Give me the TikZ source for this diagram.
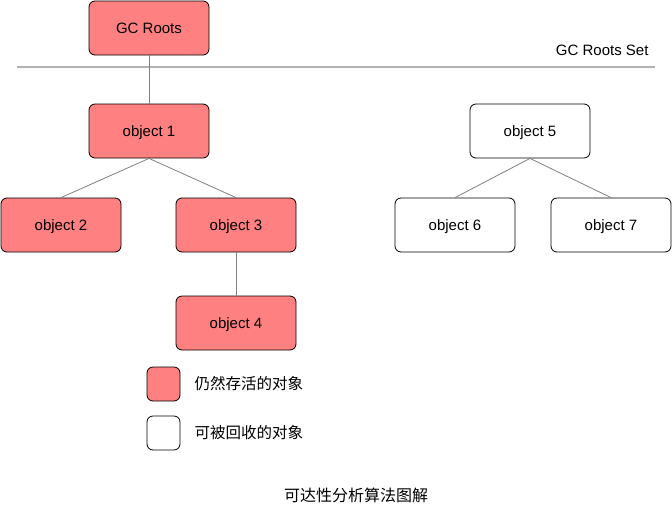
\documentclass[tikz,border=0pt]{standalone}
\usepackage{fontspec}
\setmainfont{Liberation Sans}
\newfontfamily\cjk{Noto Sans CJK SC}
\definecolor{alive}{HTML}{FF8080}
\definecolor{linkgray}{HTML}{808080}
\definecolor{setgray}{HTML}{B3B3B3}
\tikzset{
  obj/.style={draw=black, rounded corners=6pt, minimum width=120pt, minimum height=54pt,
    font=\fontsize{15}{17}\selectfont, text height=10pt, text depth=0pt, line width=0.8pt},
  live/.style={obj, fill=alive},
  dead/.style={obj, fill=white},
  keybox/.style={draw=black, rounded corners=6pt, minimum width=33pt, minimum height=34pt, line width=0.8pt},
  link/.style={draw=linkgray, line width=0.8pt},
  cjktext/.style={font=\cjk\fontsize{15.5}{18}\selectfont}
}
\begin{document}
\begin{tikzpicture}[x=1pt,y=-1pt]
    \useasboundingbox (0,0) rectangle (672,512);
    \node[live] (roots) at (149,28) {GC Roots};
    \draw[setgray, line width=1.5pt] (17,67) coordinate (setl) -- (655,67) coordinate (setr);
    \node[anchor=east, font=\fontsize{15}{17}\selectfont] (setlabel) at (652,50) {GC Roots Set};

    \node[live] (o1) at (149,131) {object 1};
    \node[live] (o2) at (61,225) {object 2};
    \node[live] (o3) at (236,225) {object 3};
    \node[live] (o4) at (236,323) {object 4};
    \node[dead] (o5) at (530,131) {object 5};
    \node[dead] (o6) at (455,225) {object 6};
    \node[dead] (o7) at (611,225) {object 7};

    \draw[link] (roots.south) -- (o1.north);
    \draw[link] (o1.south) -- (o2.north);
    \draw[link] (o1.south) -- (o3.north);
    \draw[link] (o3.south) -- (o4.north);
    \draw[link] (o5.south) -- (o6.north);
    \draw[link] (o5.south) -- (o7.north);

    % legend
    \node[keybox, fill=alive] (keylive) at (163.5,384) {};
    \node[cjktext, anchor=west] (keylivetext) at (191,384) {仍然存活的对象};
    \node[keybox, fill=white] (keydead) at (163.5,433) {};
    \node[cjktext, anchor=west] (keydeadtext) at (191,433) {可被回收的对象};

    \node[cjktext, font=\cjk\fontsize{16}{18}\selectfont] (title) at (356,495) {可达性分析算法图解};
\end{tikzpicture}
\end{document}
